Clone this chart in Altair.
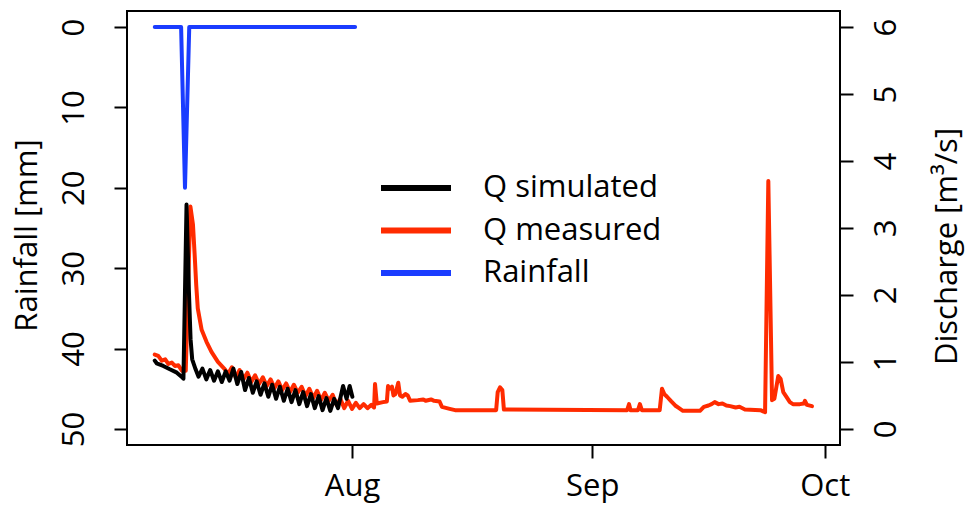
import altair as alt
import pandas as pd

# ---- data (time = days since 2014-07-01 00:00) ----
rain_t = [5.55, 8.95, 9.45, 10.0, 31.4]
rain_mm = [0, 0, 20, 0, 0]

sim_t = [5.55, 5.8, 6.65, 7.5, 8.4, 9.0, 9.25, 9.65, 9.95, 10.17, 10.38, 10.82,
         11.2, 11.7, 12.2, 12.7, 13.2, 13.7, 14.2, 14.7, 15.2, 15.7, 16.2, 16.7,
         17.2, 17.7, 18.2, 18.7, 19.2, 19.7, 20.2, 20.7, 21.2, 21.7, 22.2, 22.7,
         23.2, 23.7, 24.2, 24.7, 25.2, 25.7, 26.2, 26.7, 27.2, 27.7, 28.2, 28.7,
         29.2, 29.85, 30.3, 30.7, 31.05]
sim_q = [1.02, 0.98, 0.94, 0.89, 0.84, 0.78, 0.75, 3.35, 2.08, 1.34, 1.04, 0.89,
         0.78, 0.90, 0.74, 0.88, 0.72, 0.86, 0.70, 0.86, 0.72, 0.90, 0.67, 0.85,
         0.58, 0.76, 0.54, 0.71, 0.51, 0.68, 0.48, 0.66, 0.45, 0.63, 0.42, 0.60,
         0.40, 0.58, 0.37, 0.55, 0.34, 0.52, 0.31, 0.49, 0.28, 0.46, 0.27, 0.45,
         0.31, 0.64, 0.45, 0.64, 0.48]

meas_t = [5.55, 6.0, 6.45, 6.9, 7.3, 7.75, 8.15, 8.6, 9.05, 9.55, 10.15, 10.48,
          10.7, 10.9, 11.1, 11.6, 12.23, 12.87, 13.7, 14.6,
          15.0, 15.5, 16.0, 16.5, 17.0, 17.5, 18.0, 18.5, 19.0, 19.5, 20.0, 20.5,
          21.0, 21.5, 22.0, 22.5, 23.0, 23.5, 24.0, 24.5, 25.0, 25.5, 26.0, 26.5,
          27.0, 27.5, 28.0, 28.5, 29.0, 29.5, 30.0, 30.5, 31.0, 31.5, 32.0, 32.5,
          33.0, 33.5, 33.85, 33.97, 34.2, 35.0, 35.5, 35.65, 35.9, 36.16, 36.35,
          36.6, 36.97, 37.2, 37.5, 37.9, 38.2, 38.5, 39.5, 40.2, 40.5, 41.2, 41.6,
          42.3, 42.6, 43.6, 44.3, 49.6, 49.8, 50.1, 50.4, 50.6, 66.5, 66.75, 66.95,
          67.9, 68.15, 68.4, 70.7, 71.0, 71.3, 71.65, 72.2, 72.7, 73.2, 73.7, 75.9,
          76.4, 77.0, 77.4, 77.8, 78.3, 78.8, 79.3, 79.8, 80.5, 81.0, 81.7, 83.7,
          84.3, 84.72, 85.2, 85.5, 86.0, 86.3, 86.65, 87.1, 87.5, 87.9, 88.8, 89.3,
          89.45, 89.7, 90.35]
meas_q = [1.11, 1.09, 1.02, 1.04, 0.97, 0.99, 0.94, 0.95, 0.87, 0.87, 3.32, 3.05,
          2.6, 2.15, 1.8, 1.48, 1.30, 1.15, 1.00, 0.89,
          0.82, 0.92, 0.77, 0.88, 0.74, 0.84, 0.70, 0.80, 0.67, 0.77, 0.64, 0.74,
          0.61, 0.71, 0.58, 0.68, 0.55, 0.66, 0.54, 0.63, 0.49, 0.60, 0.46, 0.57,
          0.43, 0.54, 0.42, 0.51, 0.36, 0.45, 0.31, 0.42, 0.30, 0.39, 0.31, 0.37,
          0.31, 0.36, 0.32, 0.67, 0.38, 0.40, 0.41, 0.64, 0.60, 0.63, 0.50,
          0.52, 0.69, 0.50, 0.48, 0.52, 0.50, 0.42, 0.43, 0.44, 0.42, 0.44, 0.42,
          0.41, 0.33, 0.30, 0.28, 0.28, 0.55, 0.62, 0.58, 0.29, 0.28, 0.37, 0.28,
          0.28, 0.37, 0.28, 0.28, 0.60, 0.52, 0.48, 0.41, 0.35, 0.31, 0.27, 0.27,
          0.33, 0.35, 0.37, 0.40, 0.37, 0.38, 0.35, 0.34, 0.32, 0.33, 0.29, 0.28,
          0.25, 3.70, 0.43, 0.45, 0.79, 0.75, 0.55, 0.47, 0.40, 0.37, 0.37, 0.38,
          0.42, 0.36, 0.34]

series_names = ["Q simulated", "Q measured", "Rainfall"]
series_colors = ["#000000", "#ff2b00", "#1a3cff"]

x_ticks = [(2014, 8, 1), (2014, 9, 1), (2014, 10, 1)]
rain_ticks = [0, 10, 20, 30, 40, 50]
q_ticks = [0, 1, 2, 3, 4, 5, 6]

base = pd.Timestamp("2014-07-01")


def to_dates(ts):
    return [(base + pd.Timedelta(days=t)).strftime("%Y-%m-%dT%H:%M:%S") for t in ts]


rain_df = pd.DataFrame({"time": to_dates(rain_t), "value": rain_mm, "series": "Rainfall"})
meas_df = pd.DataFrame({"time": to_dates(meas_t), "value": meas_q, "series": "Q measured"})
sim_df = pd.DataFrame({"time": to_dates(sim_t), "value": sim_q, "series": "Q simulated"})

FONT = "Open Sans"
FS = 31

x_enc = alt.X(
    "time:T",
    scale=alt.Scale(domain=[alt.DateTime(year=2014, month=7, date=2, hours=23, minutes=15),
                            alt.DateTime(year=2014, month=10, date=2, hours=23, minutes=15)]),
    axis=alt.Axis(values=[alt.DateTime(year=y, month=m, date=d) for y, m, d in x_ticks],
                  format="%b", title=None, labelBaseline="alphabetic", labelAlign="center",
                  labelPadding=37, orient="bottom"),
)

legend = alt.Legend(
    title=None, orient="none", legendX=251, legendY=156.5,
    symbolType="M-1,0H3", symbolSize=1225, symbolStrokeWidth=6,
    labelFont=FONT, labelFontSize=FS, labelColor="black", labelOffset=64,
    rowPadding=6.5, padding=0, labelLimit=0,
)
color_enc = alt.Color("series:N", scale=alt.Scale(domain=series_names, range=series_colors),
                      legend=legend)

line_style = dict(strokeWidth=4, strokeCap="round", strokeJoin="round")

rain_line = alt.Chart(rain_df).mark_line(**line_style).encode(
    x=x_enc,
    y=alt.Y("value:Q",
            scale=alt.Scale(domain=[-2, 52], reverse=True, nice=False, zero=False),
            axis=alt.Axis(orient="left", values=rain_ticks, title="Rainfall [mm]",
                          labelAngle=270, labelAlign="center", labelBaseline="alphabetic",
                          labelPadding=31, titleAngle=270, titleAlign="center",
                          titleBaseline="alphabetic", titleX=-91, titleY=224)),
    color=color_enc,
)

q_axis = alt.Axis(orient="right", values=q_ticks, title="Discharge [m³/s]",
                  labelAngle=270, labelAlign="center", labelBaseline="top",
                  labelPadding=18, titleAngle=270, titleAlign="center",
                  titleBaseline="alphabetic", titleX=116, titleY=235)
q_scale = alt.Scale(domain=[-0.24, 6.24], nice=False, zero=False)

meas_line = alt.Chart(meas_df).mark_line(**line_style).encode(
    x=x_enc, y=alt.Y("value:Q", scale=q_scale, axis=q_axis), color=color_enc)
sim_line = alt.Chart(sim_df).mark_line(**line_style).encode(
    x=x_enc, y=alt.Y("value:Q", scale=q_scale, axis=q_axis), color=color_enc)

q_layer = alt.layer(meas_line, sim_line)

chart = (
    alt.layer(rain_line, q_layer)
    .resolve_scale(y="independent")
    .properties(width=713, height=434, autosize=alt.AutoSizeParams(type="none"),
                padding={"left": 127, "top": 11, "right": 130, "bottom": 61},
                background="white")
    .configure_view(stroke="black", strokeWidth=2)
    .configure_axis(domain=False, grid=False, ticks=True, tickColor="black", tickWidth=2,
                    tickSize=13, labelFont=FONT, labelFontSize=FS, labelColor="black",
                    titleFont=FONT, titleFontSize=FS, titleFontWeight="normal",
                    titleColor="black", labelFlush=False, labelOverlap=False)
)

chart.save("out.html", embed_options={"renderer": "svg", "actions": False})
